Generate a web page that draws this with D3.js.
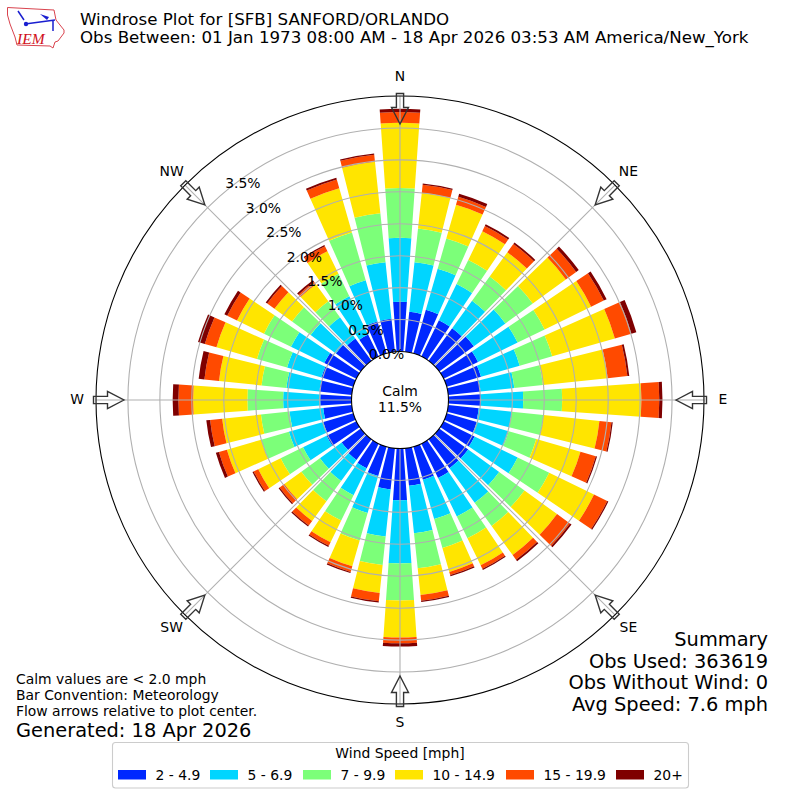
<!DOCTYPE html>
<html>
<head>
<meta charset="utf-8">
<script src="https://cdn.jsdelivr.net/npm/d3@7"></script>
<style>
body {margin:0; background:#fff;}
text {font-family:"DejaVu Sans"; fill:#000;}
</style>
</head>
<body>
<svg id="chart" width="800" height="800"></svg>
<script>
var directions = [10,20,30,40,50,60,70,80,90,100,110,120,130,140,150,160,170,180,
                  190,200,210,220,230,240,250,260,270,280,290,300,310,320,330,340,350,360];

// percent of observations, one list per speed class
var speed2 = [.63,.71,.63,.63,.67,.60,.56,.51,.51,.48,.49,.54,.56,.56,.60,.54,.59,.81,
              .65,.48,.43,.40,.37,.52,.49,.45,.49,.51,.52,.56,.48,.43,.38,.52,.52,.78];
var speed5 = [.78,.67,.63,.53,.61,.69,.63,.53,.66,.52,.52,.75,.60,.67,.67,.64,.75,.99,
              .74,.60,.47,.41,.42,.41,.56,.53,.58,.52,.56,.58,.49,.41,.67,.67,.89,1.00];
var speed7 = [.53,.49,.42,.47,.53,.47,.53,.45,.61,.50,.45,.55,.49,.45,.38,.47,.55,.58,
              .45,.45,.44,.39,.36,.39,.45,.45,.56,.39,.49,.47,.36,.31,.39,.78,.77,.78];
var speed10 = [.56,.55,.50,.47,.64,.81,1.02,1.02,1.24,.88,.72,.78,.63,.56,.47,.39,.42,.58,
               .44,.42,.38,.38,.33,.39,.56,.61,.85,.67,.66,.47,.34,.33,.39,.72,.81,1.02];
var speed15 = [.13,.13,.09,.16,.20,.22,.27,.31,.28,.19,.25,.23,.25,.09,.06,.05,.09,.09,
               .13,.09,.06,.09,.09,.08,.13,.19,.23,.23,.19,.17,.14,.05,.09,.14,.11,.17];
var speed20 = [.02,.05,.03,.03,.05,.05,.08,.03,.05,.02,.02,.02,.03,.03,.02,.02,.02,.05,
               .02,.02,.02,.02,.02,.02,.05,.06,.09,.09,.11,.05,.03,.03,.02,.03,.02,.05];

var speedLabels = ["2 - 4.9","5 - 6.9","7 - 9.9","10 - 14.9","15 - 19.9","20+"];
var speedColors = ["#0028ff","#00d5ff","#7cff79","#ffe500","#ff4a00","#7f0000"];
var radialTicks = [0,0.5,1,1.5,2,2.5,3,3.5];
var compassNames = ["N","NE","E","SE","S","SW","W","NW"];
var compassAngles = [0,45,90,135,180,225,270,315];

var titleLines = ["Windrose Plot for [SFB] SANFORD/ORLANDO",
                  "Obs Between: 01 Jan 1973 08:00 AM - 18 Apr 2026 03:53 AM America/New_York"];
var summaryLines = ["Summary","Obs Used: 363619","Obs Without Wind: 0","Avg Speed: 7.6 mph"];
var noteLines = ["Calm values are < 2.0 mph","Bar Convention: Meteorology","Flow arrows relative to plot center."];

var svg = d3.select("#chart");
var cx = 400, cy = 400;
var r = d3.scaleLinear().domain([0,4]).range([48.5,304]);
var rad = Math.PI/180;

var rows = directions.map(function(d,i) {
    return {dir:d, a:speed2[i], b:speed5[i], c:speed7[i], d:speed10[i], e:speed15[i], f:speed20[i]};
});
var stacked = d3.stack().keys(["a","b","c","d","e","f"])(rows);

var plot = svg.append("g").attr("transform","translate("+cx+","+cy+")");

var arc = d3.arc()
    .innerRadius(function(d) {return r(d[0]);})
    .outerRadius(function(d) {return r(d[1]);})
    .startAngle(function(d) {return (d.data.dir-4)*rad;})
    .endAngle(function(d) {return (d.data.dir+4)*rad;});

plot.selectAll("g.layer")
    .data(stacked)
    .enter()
    .append("g")
    .attr("class","layer")
    .attr("fill",function(d,i) {return speedColors[i];})
    .selectAll("path")
    .data(function(d) {return d;})
    .enter()
    .append("path")
    .attr("d",arc);

// grid sits over the bars
plot.selectAll("circle.ring")
    .data(radialTicks.slice(1))
    .enter()
    .append("circle")
    .attr("class","ring")
    .attr("r",function(d) {return r(d);})
    .attr("fill","none")
    .attr("stroke","#b0b0b0")
    .attr("stroke-width",1.1);

plot.selectAll("line.spoke")
    .data(compassAngles)
    .enter()
    .append("line")
    .attr("class","spoke")
    .attr("x1",function(d) {return r(0)*Math.sin(d*rad);})
    .attr("y1",function(d) {return -r(0)*Math.cos(d*rad);})
    .attr("x2",function(d) {return r(4)*Math.sin(d*rad);})
    .attr("y2",function(d) {return -r(4)*Math.cos(d*rad);})
    .attr("stroke","#b0b0b0")
    .attr("stroke-width",1.1);

plot.append("circle").attr("r",r(0)).attr("fill","#fff").attr("stroke","#000").attr("stroke-width",1.1);
plot.append("circle").attr("r",r(4)).attr("fill","none").attr("stroke","#000").attr("stroke-width",1.1);

// flow arrows point to the plot center
var arrowLine = d3.line();
plot.selectAll("path.arrow")
    .data(compassAngles)
    .enter()
    .append("path")
    .attr("class","arrow")
    .attr("transform",function(d) {return "rotate("+d+")";})
    .attr("d",arrowLine([[0,-276],[-8.5,-292.5],[-3.6,-292.5],[-3.6,-306.5],[3.6,-306.5],[3.6,-292.5],[8.5,-292.5]])+"Z")
    .attr("fill","none")
    .attr("stroke","#333")
    .attr("stroke-width",1.4);

plot.selectAll("text.rlabel")
    .data(radialTicks)
    .enter()
    .append("text")
    .attr("class","rlabel")
    .attr("x",function(d) {return -r(d)*Math.sin(40*rad);})
    .attr("y",function(d) {return -r(d)*Math.cos(40*rad)-3.5;})
    .attr("font-size",13.9)
    .text(function(d) {return d.toFixed(1)+"%";});

plot.selectAll("text.compass")
    .data(compassNames)
    .enter()
    .append("text")
    .attr("class","compass")
    .attr("x",function(d,i) {return 323*Math.sin(compassAngles[i]*rad);})
    .attr("y",function(d,i) {return -323*Math.cos(compassAngles[i]*rad)+4;})
    .attr("text-anchor","middle")
    .attr("font-size",13.9)
    .text(function(d) {return d;});

plot.append("text").attr("y",-4).attr("text-anchor","middle").attr("font-size",13.9).text("Calm");
plot.append("text").attr("y",12).attr("text-anchor","middle").attr("font-size",13.9).text("11.5%");

svg.selectAll("text.title")
    .data(titleLines)
    .enter()
    .append("text")
    .attr("class","title")
    .attr("x",80)
    .attr("y",function(d,i) {return 25+i*18;})
    .attr("font-size",16.67)
    .text(function(d) {return d;});

svg.selectAll("text.summary")
    .data(summaryLines)
    .enter()
    .append("text")
    .attr("class","summary")
    .attr("x",768)
    .attr("y",function(d,i) {return 646+i*21.7;})
    .attr("text-anchor","end")
    .attr("font-size",19.4)
    .text(function(d) {return d;});

svg.selectAll("text.note")
    .data(noteLines)
    .enter()
    .append("text")
    .attr("class","note")
    .attr("x",16)
    .attr("y",function(d,i) {return 684+i*16;})
    .attr("font-size",13.9)
    .text(function(d) {return d;});

svg.append("text").attr("x",16).attr("y",737).attr("font-size",19.4).text("Generated: 18 Apr 2026");

// legend
var legendX = [118,210,303,395,506,616];
var legend = svg.append("g");
legend.append("rect")
    .attr("x",112.5).attr("y",742.5).attr("width",576).attr("height",45.5).attr("rx",3)
    .attr("fill","#fff").attr("stroke","#ccc").attr("stroke-width",1.1);
legend.append("text").attr("x",400).attr("y",758).attr("text-anchor","middle").attr("font-size",13.9).text("Wind Speed [mph]");
legend.selectAll("rect.swatch")
    .data(speedLabels)
    .enter()
    .append("rect")
    .attr("class","swatch")
    .attr("x",function(d,i) {return legendX[i];})
    .attr("y",770)
    .attr("width",28)
    .attr("height",9.5)
    .attr("fill",function(d,i) {return speedColors[i];});
legend.selectAll("text.item")
    .data(speedLabels)
    .enter()
    .append("text")
    .attr("class","item")
    .attr("x",function(d,i) {return legendX[i]+37.5;})
    .attr("y",779.5)
    .attr("font-size",13.9)
    .text(function(d) {return d;});

// IEM logo
var logo = svg.append("g");
logo.append("path")
    .attr("d","M7.5 7.5L54 10L56 20L64 30L64 33L58 41L55 42L53 48L50 46L17 45L15 37L10 24L7.5 15Z")
    .attr("fill","#fff").attr("stroke","#d9434e").attr("stroke-width",1);
logo.append("path")
    .attr("d","M25 24L55 20M18 11L22 17L24 20M53 20L53 31")
    .attr("fill","none").attr("stroke","#1a1fd0").attr("stroke-width",1.5);
logo.append("circle").attr("cx",26).attr("cy",24).attr("r",2.2).attr("fill","#1a1fd0");
logo.append("path").attr("d","M40 14L49 17L47 20Z").attr("fill","#1a1fd0");
logo.append("text")
    .attr("x",17).attr("y",43.5)
    .style("font-family","Liberation Serif")
    .style("font-style","italic")
    .style("fill","#d01020")
    .attr("font-size",15.5)
    .text("IEM");
</script>
</body>
</html>
